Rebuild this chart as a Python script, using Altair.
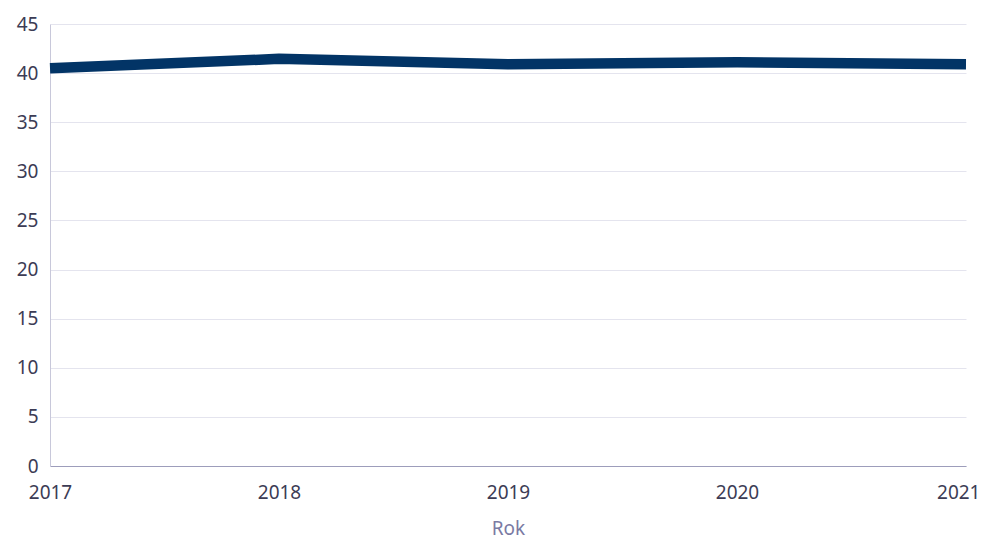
import altair as alt
import pandas as pd

years = [2017, 2018, 2019, 2020, 2021]
values = [40.5, 41.45, 40.9, 41.1, 40.9]

df = pd.DataFrame({"Rok": years, "Wartość": values})

FONT = "Noto Sans"

chart = alt.Chart(df).mark_line(
    color="#023466", strokeWidth=10.5, interpolate="linear", strokeJoin="round"
).encode(
    x=alt.X("Rok:Q", scale=alt.Scale(domain=[2017, 2021], nice=False, zero=False),
            axis=alt.Axis(values=years, format="d", title="Rok", grid=False, ticks=False,
                          domainColor="#9d9dbb", labelColor="#3c3c55", labelFontSize=19,
                          labelFont=FONT, labelPadding=17, titleFont=FONT, titleFontSize=19,
                          titleColor="#7a7aa3", titleFontWeight="normal",
                          titleY=68, titleBaseline="alphabetic",
                          labelFlush=False,
                          labelAlign=alt.expr("datum.value == 2021 ? 'right' : 'center'"),
                          labelOffset=alt.expr("datum.value == 2021 ? 14 : 0"))),
    y=alt.Y("Wartość:Q", scale=alt.Scale(domain=[0, 45], nice=False),
            axis=alt.Axis(values=list(range(0, 50, 5)), title=None, ticks=False,
                          domainColor="#c8c8da", gridColor="#e4e4ee", labelColor="#3c3c55",
                          labelFontSize=19, labelFont=FONT, labelPadding=12)),
).properties(
    width=916, height=442,
    autosize=alt.AutoSizeParams(type="none"),
    padding={"left": 42, "top": 16, "right": 14, "bottom": 74},
).configure_view(stroke=None)

chart.save("out.html", embed_options={"renderer": "svg", "actions": False})
